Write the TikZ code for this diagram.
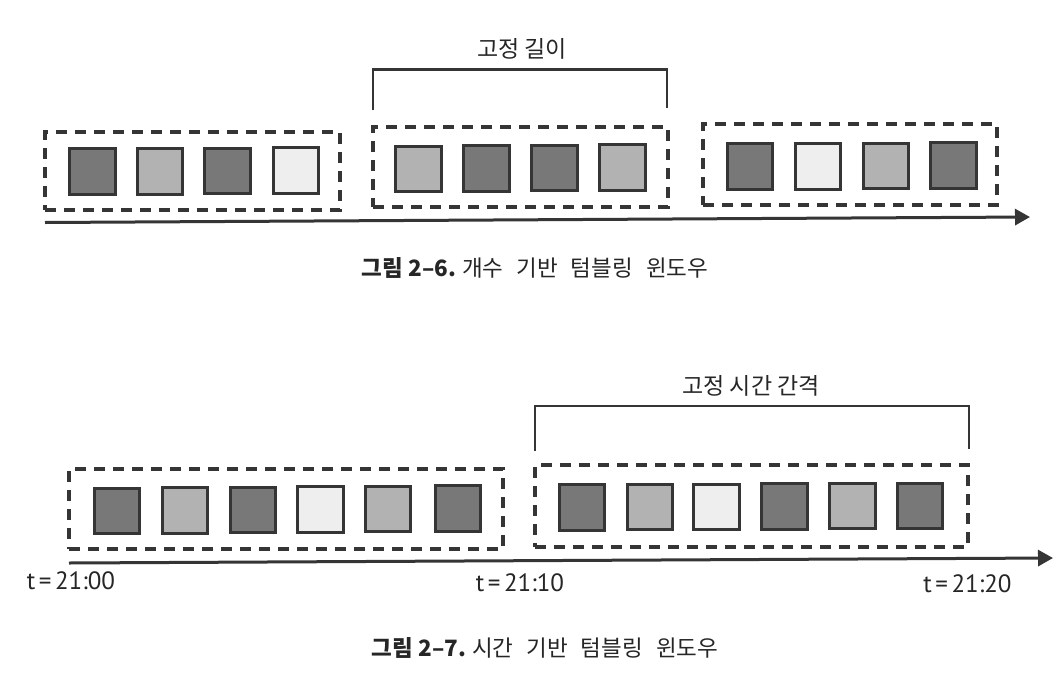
\documentclass[tikz,border=0pt]{standalone}
\usepackage{fontspec}
\newfontfamily\kr{Noto Sans CJK KR}
\newfontfamily\tfont{PT Sans}
\usetikzlibrary{arrows.meta}
\definecolor{cdark}{HTML}{787878}
\definecolor{cmid}{HTML}{B2B2B2}
\definecolor{clight}{HTML}{EEEEEE}
\definecolor{cline}{HTML}{353535}
\tikzset{
  sq/.style={draw=cline, line width=3.2pt, minimum size=45.5pt, inner sep=0pt, rectangle},
  win/.style={draw=cline, line width=3.2pt, dash pattern=on 11pt off 8pt, rectangle, inner sep=0pt},
  axis/.style={draw=cline, line width=3pt, -{Triangle[length=15pt,width=16pt]}},
  brk/.style={draw=cline, line width=2.8pt},
  lbl/.style={font=\kr\fontsize{23}{27}\selectfont, text=black!85, inner sep=0pt},
  captext/.style={font=\kr\fontsize{22.5}{27}\selectfont, text=black!85, inner sep=0pt},
  tl/.style={font=\tfont\fontsize{25}{30}\selectfont, text=black!85, inner sep=0pt}
}
\newcommand{\tgap}{\hspace{3.5pt}}
\newcommand{\wgap}{\hspace{13pt}}
\begin{document}
\begin{tikzpicture}[x=1pt,y=-1pt]
\useasboundingbox[fill=white] (0,0) rectangle (1062,688);
% ---------- Figure 2-6 ----------
\node[win, minimum width=295pt, minimum height=78pt] (wa1) at (192.5,171) {};
\node[win, minimum width=295pt, minimum height=80pt] (wa2) at (520.5,167) {};
\node[win, minimum width=294pt, minimum height=81pt] (wa3) at (850,164.5) {};
\node[sq, fill=cdark]  (a1) at (92.5,171.5) {};
\node[sq, fill=cmid]   (a2) at (160,171.5) {};
\node[sq, fill=cdark]  (a3) at (227.5,171) {};
\node[sq, fill=clight] (a4) at (296,170.5) {};
\node[sq, fill=cmid]   (a5) at (418.5,169) {};
\node[sq, fill=cdark]  (a6) at (486.5,168.5) {};
\node[sq, fill=cdark]  (a7) at (554.5,168) {};
\node[sq, fill=cmid]   (a8) at (622.5,167.5) {};
\node[sq, fill=cdark]  (a9) at (750,166.5) {};
\node[sq, fill=clight] (a10) at (818,166.5) {};
\node[sq, fill=cmid]   (a11) at (886,166) {};
\node[sq, fill=cdark]  (a12) at (953.5,165.5) {};
\coordinate (axa0) at (45,222.5);
\coordinate (axa1) at (1030,217);
\draw[axis] (axa0) -- (axa1);
\coordinate (bal) at (373,110);
\coordinate (bar) at (667,108);
\draw[brk] (bal) -- (373,69.5) -- (667,69.5) -- (bar);
\node[lbl] (la) at (522,49) {고정 길이};
\node[captext] (capa) at (535,268) {{\bfseries 그림 2–6.}\hspace{6pt}개수\wgap 기반\wgap 텀블링\wgap 윈도우};
% ---------- Figure 2-7 ----------
\node[win, minimum width=434pt, minimum height=80pt] (wb1) at (286,509) {};
\node[win, minimum width=433pt, minimum height=82pt] (wb2) at (751.5,506) {};
\node[sq, fill=cdark]  (b1) at (117,511) {};
\node[sq, fill=cmid]   (b2) at (185,510.5) {};
\node[sq, fill=cdark]  (b3) at (253,510) {};
\node[sq, fill=clight] (b4) at (320.5,509.5) {};
\node[sq, fill=cmid]   (b5) at (388,509) {};
\node[sq, fill=cdark]  (b6) at (458,508.5) {};
\node[sq, fill=cdark]  (b7) at (582,507.5) {};
\node[sq, fill=cmid]   (b8) at (650,507) {};
\node[sq, fill=clight] (b9) at (716.5,507) {};
\node[sq, fill=cdark]  (b10) at (784.5,506.5) {};
\node[sq, fill=cmid]   (b11) at (852.5,506) {};
\node[sq, fill=cdark]  (b12) at (920,506) {};
\coordinate (axb0) at (69,563);
\coordinate (axb1) at (1053,558);
\draw[axis] (axb0) -- (axb1);
\coordinate (bbl) at (535,451);
\coordinate (bbr) at (969,449);
\draw[brk] (bbl) -- (535,406) -- (969,406) -- (bbr);
\node[lbl] (lb) at (751,386) {고정 시간 간격};
\node[tl] (t1) at (71,581) {t\tgap=\tgap21:00};
\node[tl] (t2) at (520,583) {t\tgap=\tgap21:10};
\node[tl] (t3) at (967.5,584) {t\tgap=\tgap21:20};
\node[captext] (capb) at (545,648) {{\bfseries 그림 2–7.}\hspace{6pt}시간\wgap 기반\wgap 텀블링\wgap 윈도우};
\end{tikzpicture}
\end{document}
